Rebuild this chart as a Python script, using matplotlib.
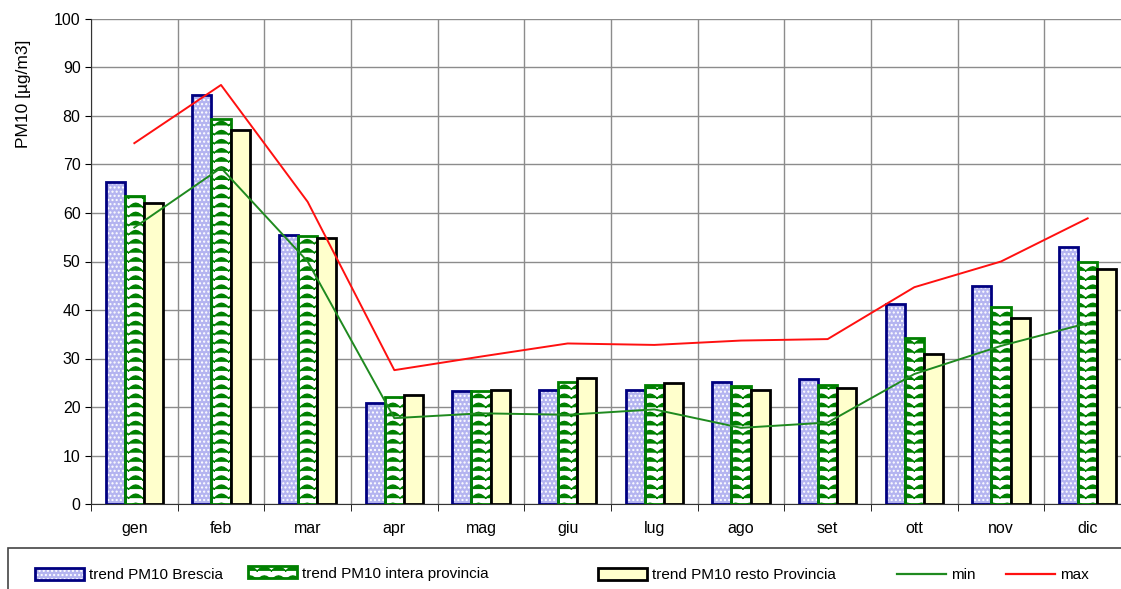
import numpy as np
import matplotlib.pyplot as plt
import matplotlib.hatch as mhatch
from matplotlib.path import Path
from matplotlib.patches import Patch, Rectangle
from matplotlib.lines import Line2D

plt.rcParams['font.family'] = ['Liberation Sans', 'DejaVu Sans']
plt.rcParams['hatch.linewidth'] = 1.0

months = ["gen", "feb", "mar", "apr", "mag", "giu", "lug", "ago", "set", "ott", "nov", "dic"]
brescia = [66.4, 84.3, 55.5, 20.8, 23.4, 23.6, 23.6, 25.2, 25.8, 41.2, 45.0, 52.9]
intera = [63.5, 79.4, 55.3, 22.0, 23.4, 25.1, 24.5, 24.3, 24.5, 34.3, 40.7, 50.0]
resto = [62.0, 77.1, 54.8, 22.4, 23.6, 26.0, 25.0, 23.6, 24.0, 30.9, 38.3, 48.5]
pm_min = [57.0, 69.3, 50.0, 17.7, 18.7, 18.4, 19.5, 15.7, 16.8, 26.8, 32.6, 37.3]
pm_max = [74.4, 86.4, 62.3, 27.6, 30.4, 33.1, 32.8, 33.7, 34.0, 44.7, 50.0, 58.9]


# wavy hatch like the excel "wave" pattern, used with hatch="~"
class WaveHatch(mhatch.HatchPatternBase):
    def __init__(self, hatch, density):
        c = hatch.count('~')
        self.cols = int(c * density * 1.2)
        self.rows = int(c * density * 1.9)
        self.npts = 7
        self.num_vertices = self.cols * self.rows * self.npts

    def set_vertices_and_codes(self, vertices, codes):
        t = np.linspace(0, 1, self.npts)
        k = 0
        for i in range(self.rows):
            y0 = (i + 0.2) / self.rows
            for j in range(self.cols):
                vertices[k:k + self.npts, 0] = (j + t) / self.cols
                vertices[k:k + self.npts, 1] = y0 + 0.45 / self.rows * np.sin(np.pi * t)
                codes[k] = Path.MOVETO
                codes[k + 1:k + self.npts] = Path.LINETO
                k += self.npts


mhatch._hatch_types.append(WaveHatch)

fig = plt.figure(figsize=(11.21, 5.89), dpi=100)
ax = fig.add_axes([91 / 1121, 1 - 504 / 589, 1040 / 1121, 485 / 589])

x = np.arange(len(months))
w = 0.22

# Brescia: light blue dotted fill, navy border
ax.bar(x - w, brescia, w, color="#b4b4f0", edgecolor="white", hatch="....", lw=0, zorder=3)
ax.bar(x - w, brescia, w, fill=False, edgecolor="#000080", lw=2, zorder=4)
# intera provincia: white with green waves
ax.bar(x, intera, w, color="white", edgecolor="#008000", hatch="~", lw=0, zorder=3)
ax.bar(x, intera, w, fill=False, edgecolor="#008000", lw=2, zorder=4)
# resto provincia: pale yellow, black border
ax.bar(x + w, resto, w, color="#ffffcc", edgecolor="black", lw=2, zorder=4)

ax.plot(x, pm_min, color="#1f8a1f", lw=1.4, zorder=5)
ax.plot(x, pm_max, color="#ff1010", lw=1.4, zorder=5)

ax.set_xlim(-0.5, 11.5)
ax.set_ylim(0, 100)
ax.set_yticks(np.arange(0, 101, 10))
ax.set_xticks(x)
ax.set_xticklabels(months)
ax.set_xticks(np.arange(-0.5, 12, 1), minor=True)
ax.tick_params(axis="x", which="major", length=0, labelsize=11.5, pad=12)
ax.tick_params(axis="x", which="minor", length=5, direction="out", color="black")
ax.tick_params(axis="y", length=4, labelsize=11.5, direction="out")
ax.grid(axis="y", color="#8c8c8c", lw=1, zorder=0)
ax.grid(axis="x", which="minor", color="#8c8c8c", lw=1, zorder=0)
for s in ["top", "right"]:
    ax.spines[s].set_visible(False)
ax.spines["left"].set_color("#333333")
ax.spines["bottom"].set_color("#333333")
ax.set_ylabel("PM10 [µg/m3]", fontsize=12.5)
ax.yaxis.set_label_coords(-0.058, 0.845)

# legend frame
fig.patches.append(Rectangle((8 / 1121, -0.1), 1.2, 0.1 + 1 - 548 / 589,
                             transform=fig.transFigure, fill=False,
                             edgecolor="#444444", lw=1.2))

h_b = (Patch(facecolor="#b4b4f0", edgecolor="white", hatch="....", lw=0),
       Patch(fill=False, edgecolor="#000080", lw=2))
h_i = (Patch(facecolor="white", edgecolor="#008000", hatch="~", lw=0),
       Patch(fill=False, edgecolor="#008000", lw=2))
h_r = Patch(facecolor="#ffffcc", edgecolor="black", lw=2)
h_min = Line2D([], [], color="#1f8a1f", lw=1.6)
h_max = Line2D([], [], color="#ff1010", lw=1.6)

entries = [
    (h_b, "trend PM10 Brescia", 35, 575),
    (h_i, "trend PM10 intera provincia", 248, 573.5),
    (h_r, "trend PM10 resto Provincia", 598, 575),
    (h_min, "min", 897, 575),
    (h_max, "max", 1006, 575),
]
for h, lab, px, py in entries:
    fig.legend([h], [lab], loc="center left", bbox_to_anchor=(px / 1121, 1 - py / 589),
               frameon=False, fontsize=11, borderpad=0, borderaxespad=0,
               handlelength=3.2, handleheight=0.8, handletextpad=0.35)

fig.savefig("out.png", dpi=100)
